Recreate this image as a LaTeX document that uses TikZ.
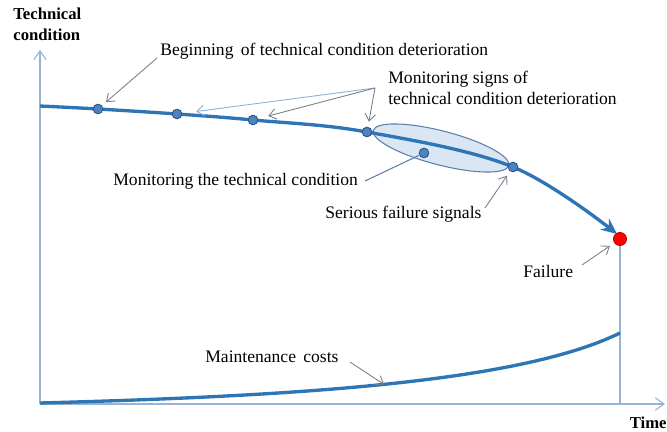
\documentclass[tikz,border=0pt]{standalone}
\usepackage{fontspec}
\setmainfont{Liberation Serif}
\usetikzlibrary{positioning,arrows.meta}

\definecolor{curveblue}{RGB}{46,117,182}
\definecolor{axisblue}{RGB}{150,180,215}
\definecolor{dotblue}{RGB}{80,130,190}
\definecolor{dotedge}{RGB}{40,85,145}
\definecolor{ovalfill}{RGB}{218,230,244}
\definecolor{ovaledge}{RGB}{95,125,165}
\definecolor{pointgray}{RGB}{120,128,138}
\definecolor{pointblue}{RGB}{140,175,215}

\begin{document}
\begin{tikzpicture}[x=0.02cm,y=-0.02cm,
  axis/.style={draw=axisblue,line width=0.6pt},
  curve/.style={draw=curveblue,line width=1.9pt},
  dot/.style={circle,fill=dotblue,draw=dotedge,line width=0.5pt,inner sep=0pt,minimum size=5.5pt},
  pointer/.style={draw=pointgray,line width=0.5pt,-{Straight Barb[length=4pt,width=6pt]}},
  lbl/.style={font=\fontsize{10}{12}\selectfont,inner sep=0pt,anchor=west},
  ttl/.style={font=\fontsize{9.5}{11.5}\selectfont\bfseries,inner sep=0pt,align=left}]
\useasboundingbox (0,0) rectangle (667,432);

% axes
\coordinate (orig) at (40,404);
\coordinate (ytop) at (40,50);
\coordinate (xend) at (665,404);
\draw[axis,-{Straight Barb[length=5pt,width=7pt]}] (orig) -- (ytop);
\draw[axis,-{Straight Barb[length=5pt,width=7pt]}] (orig) -- (xend);
\node[ttl,anchor=north west] (ylab) at (13,8) {Technical\\condition};
\node[ttl,anchor=east] (xlab) at (667,423) {Time};

% points on the condition curve
\coordinate (c0) at (40,106);
\coordinate (c1) at (98,109);
\coordinate (c2) at (177,114);
\coordinate (c3) at (253,120);
\coordinate (c4) at (367,132);
\coordinate (c5) at (513,167);
\coordinate (cend) at (617,234);

% oval of monitored zone
\draw[fill=ovalfill,draw=ovaledge,line width=0.6pt,shift={(441,148)},rotate=-14.5] (0,0) ellipse [x radius=70, y radius=17];

\draw[curve,-{Stealth[length=9pt,width=8pt]}] plot[smooth,tension=0.6] coordinates {(c0) (c1) (c2) (c3) (c4) (c5) (cend)};

\node[dot] (d1) at (c1) {};
\node[dot] (d2) at (c2) {};
\node[dot] (d3) at (c3) {};
\node[dot] (d4) at (c4) {};
\node[dot] (d5) at (c5) {};
\node[dot] (mdot) at (424,153) {};
\node[circle,fill=red,draw=red!70!black,line width=0.4pt,inner sep=0pt,minimum size=7.5pt] (fail) at (620,239) {};

\draw[axis] (fail) -- (orig -| fail);

% maintenance costs curve
\draw[curve] (40,403) .. controls (300,396) and (520,382) .. (620,333) coordinate[pos=0.49] (costpt);

% labels
\node[lbl] (begin) at (160,51) {Beginning\, of technical condition deterioration};
\node[lbl,align=left] (signs) at (388,88) {Monitoring signs of\\technical condition deterioration};
\node[lbl] (monit) at (113,181) {Monitoring the technical condition};
\node[lbl] (serious) at (325,214) {Serious failure signals};
\node[lbl] (failure) at (523,271) {Failure};
\node[lbl] (costs) at (205,357) {Maintenance\, costs};

% pointers
\coordinate (bfrom) at (157,58);
\coordinate (sfork) at (375,88);
\coordinate (mfrom) at (365,181);
\coordinate (sfrom) at (485,208);
\coordinate (ffrom) at (582,265);
\coordinate (kfrom) at (350,362);
\draw[pointer,shorten >=3pt] (bfrom) -- (d1);
\draw[pointer,draw=pointblue,shorten >=8pt] (sfork) -- (d2);
\draw[pointer,shorten >=6pt] (sfork) -- (d3);
\draw[pointer,shorten >=3pt] (sfork) -- (d4);
\draw[draw=ovaledge,line width=0.6pt] (mfrom) -- (mdot);
\draw[pointer,shorten >=3pt] (sfrom) -- (d5);
\draw[pointer,shorten >=3pt] (ffrom) -- (fail);
\draw[pointer] (kfrom) -- (costpt);
\end{tikzpicture}
\end{document}
